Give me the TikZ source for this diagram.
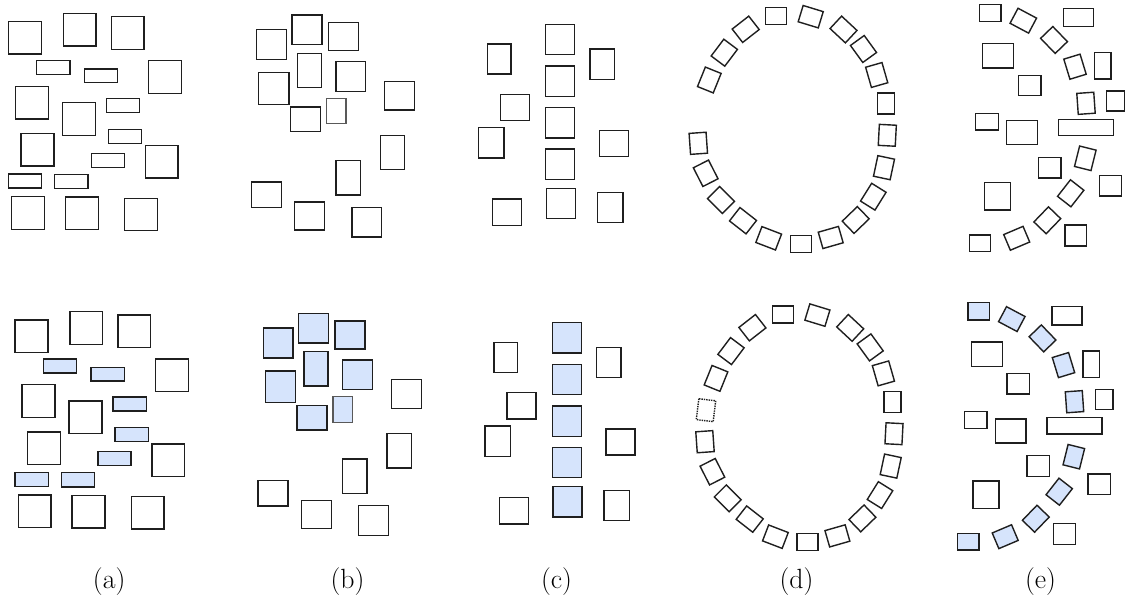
\documentclass[tikz,border=0pt]{standalone}
\begin{document}
\begin{tikzpicture}[x=1pt,y=-1pt,
  bx/.style={draw=black!88,line width=1.4pt},
  rb/.style={draw=black!88,line width=1.4pt,rectangle,inner sep=0pt,outer sep=0pt,
             minimum width=21pt,minimum height=17pt},
  lbl/.style={anchor=base,inner sep=0pt,font=\fontsize{27.8}{32}\selectfont}]
\definecolor{hlblue}{RGB}{214,228,252}

% panels (a)-(d): same layout in both rows
\newcommand\boxesAD{%
  % (a) squares and thin bars
  \foreach \xa/\ya/\xb/\yb in {8.3/21.7/41.3/54, 63.3/13.3/96/46, 111.3/16.7/144/49.3,
      148.7/60.7/181.7/93.3, 15.3/86.3/48.3/119, 62.3/102.7/95.3/135.3, 21/133.7/54/166,
      145.3/145.7/178/178, 11.7/196.7/44.3/229.3, 65.3/197/98.3/229.7, 124.7/198.3/157.3/230.7}
    {\draw[bx] (\xa,\ya) rectangle (\xb,\yb);}
  \foreach \xa/\ya/\xb/\yb in {36.7/60.7/70/74.7, 84.3/69/117.7/82.7, 106.3/98.7/139.7/112.7,
      108.3/129.3/141.7/143.3, 91.3/153.3/124.3/167.3, 8.3/174/41.7/188, 54.7/174.3/88/188.7}
    {\draw[bx,hl] (\xa,\ya) rectangle (\xb,\yb);}
  % (b) cluster and scattered boxes
  \foreach \xa/\ya/\xb/\yb in {256.7/29.7/286.3/59.7, 292/15/322/44.7, 328.3/22.7/358.3/50.7,
      297.3/53.3/321.3/87.7, 336/61.7/365.7/91.3, 258.7/72.7/289/104.3, 290.3/107/320.3/131.7}
    {\draw[bx,hl] (\xa,\ya) rectangle (\xb,\yb);}
  \draw[bx,hl,draw=black!65,line width=1.1pt] (326.3,98.3) rectangle (346,123.7);
  \foreach \xa/\ya/\xb/\yb in {384.7/81.3/414.7/110, 380.3/135.3/404.7/169.7, 336/160.7/360.3/195,
      251.3/182/281.3/207.7, 294.7/202/324.7/230, 352/207.3/381.7/237}
    {\draw[bx] (\xa,\ya) rectangle (\xb,\yb);}
  % (c) central column and side boxes
  \foreach \xa/\ya/\xb/\yb in {487.3/44/511/74, 590/49/614.3/79.3, 500.3/94.3/529.3/120.7,
      478.3/127.7/504/158, 599.3/130.7/628.3/156.7, 492.7/199/521.7/225.7, 597.3/192.3/623/222.3}
    {\draw[bx] (\xa,\ya) rectangle (\xb,\yb);}
  \foreach \xa/\ya/\xb/\yb in {545.7/24.3/574.7/54.7, 545.7/66/574.7/96.3, 545.7/107.7/574.7/138,
      545.7/149/574.7/179.3, 546.3/188.3/575.3/218.7}
    {\draw[bx,hl] (\xa,\ya) rectangle (\xb,\yb);}
  % (d) ring of tilted boxes
  \foreach \cx/\cy/\r in {776.2/16.2/0, 810.7/16.7/-17, 843.5/29.5/-43, 863.5/49/-54,
      876.7/75/-74, 885.7/103.7/-90, 887.3/135.3/-93, 884/167.7/-102, 873.3/196.7/-122,
      855.7/220/44, 830.7/237.5/16, 800.8/243.8/0, 768.7/238.3/-21, 743/220.7/-38,
      721/200/-45, 705.7/173.3/-63, 698.3/143.3/-86, 709.3/80/68, 724.3/52.7/53, 745.7/29.3/38}
    {\node[rb,rotate=\r] at (\cx,\cy) {};}
  \node[rb,ghost,rotate=83] at (699.3,111.8) {};
}

% panel (e)
\newcommand\boxesE{%
  \foreach \xa/\ya/\xb/\yb in {1063.3/8.3/1093.3/26.7, 982.7/43.7/1013.7/68, 1094.3/52.7/1111/79,
      1018.3/75.3/1041/95.7, 1106.7/91/1124.3/111, 975.7/113.3/998.3/130,
      1006.7/120.7/1037.3/144.7, 1058.3/119.3/1113.3/135.7, 1038.3/157.3/1061/178,
      1099.3/175.7/1121.7/196, 984.3/182.7/1010.3/210, 1065/225/1086.7/246}
    {\draw[bx] (\xa,\ya) rectangle (\xb,\yb);}
  \draw[bx,hl] (979.3,4.3) rectangle (1001,21.7);
  \draw[bx,hl] (969.2,234.9) rectangle (990.5,251.6);
  \foreach \cx/\cy/\r in {1023.3/20.7/-28, 1054/40/-46, 1075/66.7/-73, 1086/103.3/-86,
      1085.3/158.3/-104, 1070.7/193.3/52, 1047.3/220.3/46, 1016.7/238.3/23}
    {\node[rb,hl,rotate=\r] at (\cx,\cy) {};}
}

\fill[white] (0,0) rectangle (1125,601);
\useasboundingbox (0,0) rectangle (1125,601);

% upper row: plain outlines
\begin{scope}[hl/.style={},ghost/.style={draw=none}]
  \boxesAD
  \boxesE
\end{scope}

% lower row: highlighted boxes filled
\begin{scope}[shift={(6.7,298.4)},hl/.style={fill=hlblue},ghost/.style={densely dotted}]
  \boxesAD
\end{scope}
\begin{scope}[shift={(-11.5,298.4)},hl/.style={fill=hlblue},ghost/.style={densely dotted}]
  \boxesE
\end{scope}

% captions
\node[lbl] (capa) at (109.2,588) {(a)};
\node[lbl] (capb) at (347.5,588) {(b)};
\node[lbl] (capc) at (556.5,588) {(c)};
\node[lbl] (capd) at (796.5,588) {(d)};
\node[lbl] (cape) at (1040.5,588) {(e)};
\end{tikzpicture}
\end{document}
